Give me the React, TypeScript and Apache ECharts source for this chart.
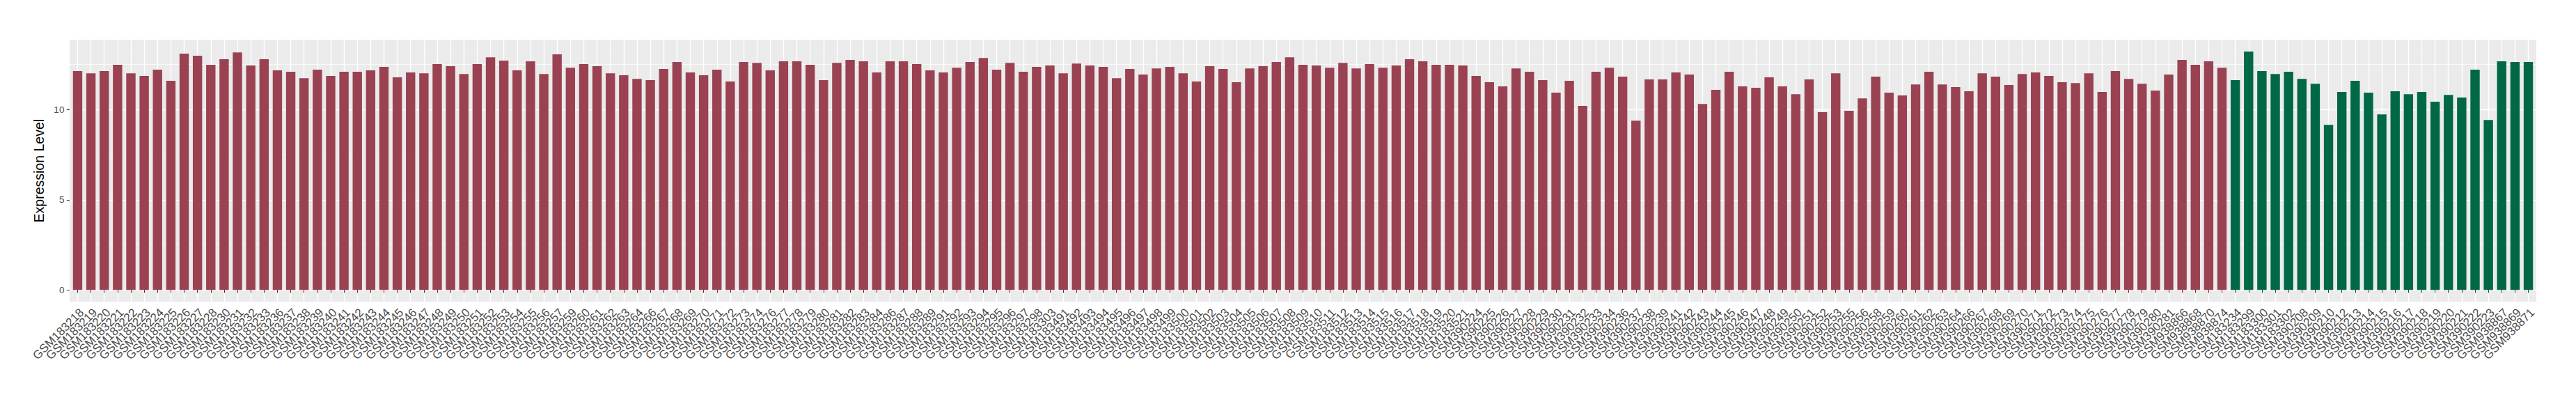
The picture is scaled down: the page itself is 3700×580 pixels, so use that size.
import React, { useEffect, useRef } from "react";
import * as echarts from "echarts";

// Group A (red) samples and expression levels
const groupAIds = [
  "GSM183218", "GSM183219", "GSM183220", "GSM183221", "GSM183222", "GSM183223", "GSM183224", "GSM183225",
  "GSM183226", "GSM183227", "GSM183228", "GSM183230", "GSM183231", "GSM183232", "GSM183233", "GSM183236",
  "GSM183237", "GSM183238", "GSM183239", "GSM183240", "GSM183241", "GSM183242", "GSM183243", "GSM183244",
  "GSM183245", "GSM183246", "GSM183247", "GSM183248", "GSM183249", "GSM183250", "GSM183251", "GSM183252",
  "GSM183253", "GSM183254", "GSM183255", "GSM183256", "GSM183257", "GSM183259", "GSM183260", "GSM183261",
  "GSM183262", "GSM183263", "GSM183264", "GSM183266", "GSM183267", "GSM183268", "GSM183269", "GSM183270",
  "GSM183271", "GSM183272", "GSM183273", "GSM183274", "GSM183276", "GSM183277", "GSM183278", "GSM183279",
  "GSM183280", "GSM183281", "GSM183282", "GSM183283", "GSM183284", "GSM183286", "GSM183287", "GSM183288",
  "GSM183289", "GSM183291", "GSM183292", "GSM183293", "GSM183294", "GSM183295", "GSM183296", "GSM183297",
  "GSM183298", "GSM183303", "GSM183491", "GSM183492", "GSM183493", "GSM183494", "GSM183495", "GSM183496",
  "GSM183497", "GSM183498", "GSM183499", "GSM183500", "GSM183501", "GSM183502", "GSM183503", "GSM183504",
  "GSM183505", "GSM183506", "GSM183507", "GSM183508", "GSM183509", "GSM183510", "GSM183511", "GSM183512",
  "GSM183513", "GSM183514", "GSM183515", "GSM183516", "GSM183517", "GSM183518", "GSM183519", "GSM183520",
  "GSM183521", "GSM390224", "GSM390225", "GSM390226", "GSM390227", "GSM390228", "GSM390229", "GSM390230",
  "GSM390231", "GSM390232", "GSM390233", "GSM390234", "GSM390236", "GSM390237", "GSM390238", "GSM390239",
  "GSM390241", "GSM390242", "GSM390243", "GSM390244", "GSM390245", "GSM390246", "GSM390247", "GSM390248",
  "GSM390249", "GSM390250", "GSM390251", "GSM390252", "GSM390253", "GSM390255", "GSM390256", "GSM390258",
  "GSM390259", "GSM390260", "GSM390261", "GSM390262", "GSM390263", "GSM390264", "GSM390266", "GSM390267",
  "GSM390268", "GSM390269", "GSM390270", "GSM390271", "GSM390272", "GSM390273", "GSM390274", "GSM390275",
  "GSM390276", "GSM390277", "GSM390278", "GSM390279", "GSM390280", "GSM390281", "GSM938866", "GSM938868",
  "GSM938870", "GSM938874",
];

const groupAValues = [
  12.14, 12.02, 12.14, 12.49, 12.02, 11.87, 12.22, 11.6,
  13.11, 12.99, 12.49, 12.8, 13.18, 12.45, 12.8, 12.18,
  12.1, 11.75, 12.22, 11.87, 12.1, 12.1, 12.18, 12.37,
  11.79, 12.06, 12.02, 12.53, 12.41, 11.98, 12.53, 12.91,
  12.72, 12.18, 12.68, 11.98, 13.07, 12.33, 12.53, 12.41,
  12.02, 11.91, 11.71, 11.64, 12.26, 12.64, 12.06, 11.91,
  12.22, 11.56, 12.64, 12.6, 12.18, 12.68, 12.68, 12.49,
  11.64, 12.6, 12.76, 12.68, 12.06, 12.68, 12.68, 12.53,
  12.18, 12.06, 12.33, 12.64, 12.87, 12.22, 12.6, 12.1,
  12.37, 12.45, 12.02, 12.56, 12.45, 12.37, 11.75, 12.26,
  11.95, 12.29, 12.37, 12.02, 11.56, 12.41, 12.26, 11.52,
  12.29, 12.41, 12.64, 12.91, 12.49, 12.45, 12.33, 12.6,
  12.29, 12.53, 12.33, 12.45, 12.8, 12.68, 12.49, 12.49,
  12.45, 11.87, 11.52, 11.29, 12.29, 12.1, 11.64, 10.94,
  11.6, 10.21, 12.1, 12.33, 11.83, 9.39, 11.68, 11.68,
  12.06, 11.95, 10.32, 11.1, 12.1, 11.29, 11.21, 11.79,
  11.29, 10.86, 11.68, 9.86, 12.02, 9.94, 10.63, 11.83,
  10.94, 10.79, 11.4, 12.1, 11.4, 11.25, 11.02, 12.02,
  11.83, 11.37, 11.98, 12.06, 11.87, 11.52, 11.48, 12.02,
  10.98, 12.14, 11.71, 11.44, 11.06, 11.95, 12.76, 12.49,
  12.68, 12.33,
];

// Group B (green) samples and expression levels
const groupBIds = [
  "GSM183234", "GSM183299", "GSM183300", "GSM183301", "GSM183302", "GSM390208", "GSM390209", "GSM390210",
  "GSM390212", "GSM390213", "GSM390214", "GSM390215", "GSM390216", "GSM390217", "GSM390218", "GSM390219",
  "GSM390220", "GSM390221", "GSM390222", "GSM390223", "GSM938867", "GSM938869", "GSM938871",
];

const groupBValues = [
  11.64, 13.22, 12.14, 11.98, 12.1, 11.71, 11.44, 9.16,
  10.98, 11.6, 10.94, 9.74, 11.02, 10.86, 10.98, 10.44,
  10.82, 10.67, 12.22, 9.43, 12.68, 12.64, 12.64,
];

const yTickValues = [0, 5, 10];
const yMinorValues = [2.5, 7.5, 12.5];

const COLOR_A = "#9A4252";
const COLOR_B = "#006847";
const FONT = "'Liberation Sans', Arial, Helvetica, sans-serif";

export default function App() {
  const ref = useRef<HTMLDivElement>(null);

  useEffect(() => {
    if (!ref.current) return;
    const chart = echarts.init(ref.current, null, { renderer: "svg" });

    const categories = [...groupAIds, ...groupBIds];
    const barData = [
      ...groupAValues.map((v) => ({ value: v, itemStyle: { color: COLOR_A } })),
      ...groupBValues.map((v) => ({ value: v, itemStyle: { color: COLOR_B } })),
    ];
    const maxV = Math.max(...groupAValues, ...groupBValues);
    const yMin = -0.05 * maxV;
    const yMax = 1.05 * maxV;

    const W = 3700;
    const H = 580;
    const panelLeft = 100;
    const panelRight = 3643;
    const panelTop = 57;
    const panelBottom = 433.3;
    const n = categories.length;
    const unit = (panelRight - panelLeft) / (n - 1 + 1.2);

    chart.setOption({
      animation: false,
      backgroundColor: "#FFFFFF",
      graphic: [
        {
          type: "rect",
          silent: true,
          z: -10,
          shape: { x: panelLeft, y: panelTop, width: panelRight - panelLeft, height: panelBottom - panelTop },
          style: { fill: "#EBEBEB" },
        },
      ],
      grid: [
        { left: panelLeft, right: W - panelRight, top: panelTop, bottom: H - panelBottom, show: false },
        {
          left: panelLeft + 0.6 * unit,
          right: W - panelRight + 0.6 * unit,
          top: panelTop,
          bottom: H - panelBottom,
          show: false,
        },
      ],
      xAxis: [
        { gridIndex: 0, type: "value", min: 0, max: 1, show: false },
        {
          gridIndex: 1,
          type: "category",
          data: categories,
          boundaryGap: false,
          z: 1,
          axisLine: { show: false },
          axisTick: { show: true, interval: 0, length: 4.2, lineStyle: { color: "#333333", width: 1 } },
          axisLabel: {
            interval: 0,
            rotate: 45,
            fontSize: 17,
            color: "#4D4D4D",
            fontFamily: FONT,
            margin: 6.5,
            align: "right",
            verticalAlign: "top",
          },
          splitLine: { show: true, interval: 0, lineStyle: { color: "#FFFFFF", width: 1.4 } },
        },
      ],
      yAxis: [
        {
          gridIndex: 0,
          type: "value",
          min: yMin,
          max: yMax,
          name: "Expression Level",
          nameLocation: "middle",
          nameRotate: 90,
          nameGap: 26,
          nameTextStyle: { fontSize: 19.5, color: "#000000", fontFamily: FONT },
          axisLine: { show: false },
          axisTick: { show: true, customValues: yTickValues, length: 4.2, lineStyle: { color: "#333333", width: 1 } },
          axisLabel: { customValues: yTickValues, fontSize: 13.5, color: "#4D4D4D", fontFamily: FONT, margin: 7.6 },
          splitLine: { show: false },
        },
        { gridIndex: 1, type: "value", min: yMin, max: yMax, show: false, splitLine: { show: false } },
      ],
      series: [
        {
          type: "line",
          xAxisIndex: 0,
          yAxisIndex: 0,
          data: [],
          silent: true,
          z: 1,
          markLine: {
            silent: true,
            z: 1,
            symbol: "none",
            label: { show: false },
            emphasis: { disabled: true },
            data: [
              ...yTickValues.map((v) => ({ yAxis: v, lineStyle: { color: "#FFFFFF", width: 1.4, type: "solid" } })),
              ...yMinorValues.map((v) => ({ yAxis: v, lineStyle: { color: "#FFFFFF", width: 0.7, type: "solid" } })),
            ],
          },
        },
        {
          type: "bar",
          xAxisIndex: 1,
          yAxisIndex: 1,
          data: barData,
          barWidth: "70%",
          clip: false,
          z: 5,
        },
      ],
    });

    return () => chart.dispose();
  }, []);

  return (
    <div
      ref={ref}
      style={{ position: "absolute", left: 0, top: 0, width: 3700, height: 580, background: "#FFFFFF" }}
    />
  );
}
